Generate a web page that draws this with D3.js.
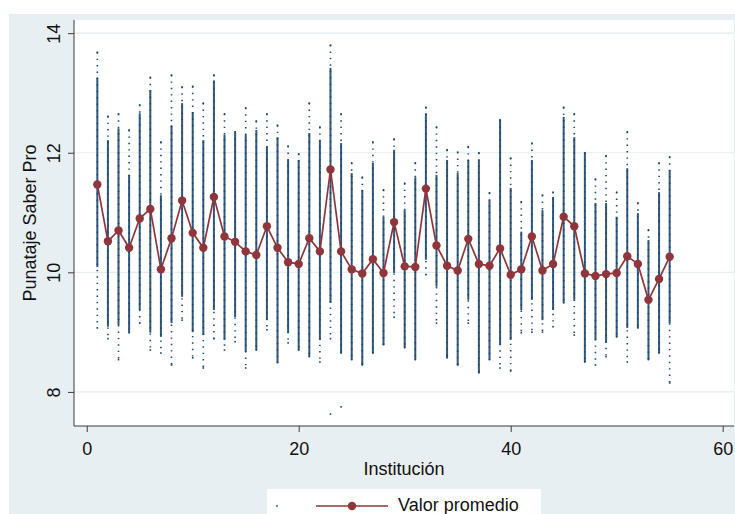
<!DOCTYPE html>
<html>
<head>
<meta charset="utf-8">
<script src="https://cdn.jsdelivr.net/npm/d3@7"></script>
<style>
  body { margin: 0; background: white; }
  text { font-family: "Liberation Sans", Arial, sans-serif; }
</style>
</head>
<body>
<div id="chart"></div>
<script>
// institution numbers on the x axis
const institutions = [1, 2, 3, 4, 5, 6, 7, 8, 9, 10, 11, 12, 13, 14, 15, 16, 17, 18, 19, 20,
                      21, 22, 23, 24, 25, 26, 27, 28, 29, 30, 31, 32, 33, 34, 35, 36, 37, 38, 39, 40,
                      41, 42, 43, 44, 45, 46, 47, 48, 49, 50, 51, 52, 53, 54, 55]

// mean score per institution (red line)
const meanScore = [11.47, 10.52, 10.70, 10.41, 10.90, 11.06, 10.05, 10.57, 11.20, 10.66,
                   10.41, 11.26, 10.60, 10.51, 10.35, 10.29, 10.77, 10.41, 10.17, 10.14,
                   10.57, 10.35, 11.72, 10.35, 10.05, 9.98, 10.22, 9.99, 10.84, 10.10,
                   10.09, 11.40, 10.45, 10.11, 10.03, 10.56, 10.14, 10.11, 10.40, 9.96,
                   10.05, 10.60, 10.03, 10.14, 10.93, 10.77, 9.98, 9.94, 9.97, 9.99,
                   10.27, 10.14, 9.54, 9.89, 10.26]

// highest / lowest student score per institution
const colMax = [13.68, 12.61, 12.65, 12.38, 12.80, 13.26, 12.18, 13.30, 13.10, 13.11,
                12.83, 13.30, 12.65, 12.35, 12.75, 12.53, 12.65, 12.46, 12.11, 11.98,
                12.83, 12.43, 13.80, 12.65, 11.83, 11.59, 12.18, 11.38, 12.23, 11.49,
                11.83, 12.76, 12.43, 12.05, 12.01, 12.10, 12.00, 11.33, 12.55, 11.91,
                11.18, 12.16, 11.29, 11.34, 12.76, 12.65, 12.00, 11.56, 11.95, 11.34,
                12.35, 11.16, 10.71, 11.83, 11.93]

const colMin = [9.07, 8.89, 8.54, 8.99, 9.15, 8.70, 8.65, 8.45, 9.20, 8.57,
                8.40, 8.89, 8.70, 8.84, 8.40, 8.70, 9.04, 8.49, 8.82, 8.70,
                8.59, 8.50, 8.89, 8.65, 8.54, 8.45, 8.65, 8.79, 9.25, 8.74,
                8.54, 9.96, 9.15, 8.57, 8.45, 9.15, 8.32, 8.54, 8.40, 8.35,
                8.99, 9.00, 9.00, 9.09, 9.49, 8.95, 8.50, 8.45, 8.59, 8.92,
                8.50, 9.07, 8.54, 8.65, 8.15]

// range where the student dots pile up into a solid column
const denseHi = [13.26, 12.21, 12.41, 11.63, 12.66, 13.05, 11.29, 12.46, 12.83, 12.68,
                 12.21, 13.21, 12.30, 12.33, 12.30, 12.38, 12.10, 12.26, 11.88, 11.88,
                 12.33, 12.21, 13.42, 12.16, 11.66, 11.38, 11.83, 10.93, 12.05, 11.04,
                 11.59, 12.66, 11.63, 11.88, 11.66, 11.88, 11.88, 11.21, 12.55, 11.41,
                 10.68, 11.88, 11.04, 11.26, 12.60, 12.26, 12.00, 11.16, 11.16, 10.93,
                 11.74, 10.99, 10.54, 11.34, 11.71]

const denseLo = [10.09, 9.09, 9.12, 8.99, 9.37, 8.99, 8.92, 9.15, 9.59, 9.00,
                 8.95, 9.37, 8.87, 9.25, 8.67, 8.70, 9.20, 8.49, 8.99, 8.70,
                 8.59, 8.87, 9.49, 8.65, 8.54, 8.45, 8.65, 8.79, 9.99, 8.74,
                 8.54, 10.21, 9.76, 8.57, 8.45, 9.54, 8.32, 8.54, 8.79, 8.87,
                 9.37, 9.54, 9.20, 9.37, 9.49, 9.54, 8.50, 8.87, 8.82, 8.92,
                 9.07, 9.07, 8.54, 8.65, 9.15]

// isolated low outliers
const strayInst = [23, 24]
const strayScore = [7.63, 7.75]

const yTicks = [8, 10, 12, 14]
const xTicks = [0, 20, 40, 60]

const colorDots = "#1a476f"
const colorMean = "#90353b"
const colorRegion = "#e8eff2"
const colorGrid = "#e6eef1"

const W = 735, H = 514
const plot = {left: 74, right: 734, top: 20, bottom: 426}

const svg = d3.select("#chart")
              .append("svg")
              .attr("width", W)
              .attr("height", H)

// graph region
svg.append("rect")
   .attr("x", 9).attr("y", 14)
   .attr("width", W - 9).attr("height", H - 14)
   .attr("fill", colorRegion)

svg.append("rect")
   .attr("x", plot.left).attr("y", plot.top)
   .attr("width", plot.right - plot.left).attr("height", plot.bottom - plot.top)
   .attr("fill", "white")

const x = d3.scaleLinear()
            .domain([-1.2, 61.07])
            .range([plot.left, plot.right])

const y = d3.scaleLinear()
            .domain([7.43, 14.22])
            .range([plot.bottom, plot.top])

// grid lines
svg.append("g")
   .selectAll("line")
   .data(yTicks)
   .join("line")
   .attr("x1", plot.left).attr("x2", plot.right)
   .attr("y1", d => y(d)).attr("y2", d => y(d))
   .attr("stroke", colorGrid)
   .attr("stroke-width", 1.2)

// student scores: sparse dots then the dense column
const cols = svg.append("g")

cols.selectAll(".sparse")
    .data(institutions)
    .join("line")
    .attr("class", "sparse")
    .attr("x1", d => x(d)).attr("x2", d => x(d))
    .attr("y1", (d, i) => y(colMax[i]))
    .attr("y2", (d, i) => y(colMin[i]))
    .attr("stroke", colorDots)
    .attr("stroke-width", 1.6)
    .attr("stroke-dasharray", "1.4,5")

cols.selectAll(".dense")
    .data(institutions)
    .join("line")
    .attr("class", "dense")
    .attr("x1", d => x(d)).attr("x2", d => x(d))
    .attr("y1", (d, i) => y(denseHi[i]))
    .attr("y2", (d, i) => y(denseLo[i]))
    .attr("stroke", colorDots)
    .attr("stroke-width", 2)
    .attr("opacity", 0.9)

const ends = institutions.flatMap((d, i) => [[d, colMax[i]], [d, colMin[i]]])
                         .concat(strayInst.map((d, i) => [d, strayScore[i]]))

cols.selectAll(".end")
    .data(ends)
    .join("rect")
    .attr("class", "end")
    .attr("x", d => x(d[0]) - 0.8)
    .attr("y", d => y(d[1]) - 0.8)
    .attr("width", 1.6).attr("height", 1.6)
    .attr("fill", colorDots)

// mean line
const line = d3.line()
               .x(d => x(d[0]))
               .y(d => y(d[1]))

const means = institutions.map((d, i) => [d, meanScore[i]])

svg.append("path")
   .datum(means)
   .attr("fill", "none")
   .attr("stroke", colorMean)
   .attr("stroke-width", 1.7)
   .attr("d", line)

svg.append("g")
   .selectAll("circle")
   .data(means)
   .join("circle")
   .attr("cx", d => x(d[0]))
   .attr("cy", d => y(d[1]))
   .attr("r", 4.2)
   .attr("fill", colorMean)

// axes
const yAxis = svg.append("g")
                 .attr("transform", "translate(" + plot.left + ",0)")
                 .call(d3.axisLeft(y).tickValues(yTicks).tickSize(6).tickFormat(d3.format("d")))

yAxis.select(".domain").attr("d", "M0," + plot.top + "V" + plot.bottom)
yAxis.selectAll("text")
     .attr("x", null).attr("dy", null)
     .attr("transform", "translate(-14,0) rotate(-90)")
     .attr("text-anchor", "middle")
     .style("font-size", "18px")

const xAxis = svg.append("g")
                 .attr("transform", "translate(0," + plot.bottom + ")")
                 .call(d3.axisBottom(x).tickValues(xTicks).tickSize(6))

xAxis.select(".domain").attr("d", "M" + plot.left + ",0H" + plot.right)
xAxis.selectAll("text")
     .attr("y", 29).attr("dy", null)
     .style("font-size", "18px")

svg.selectAll(".domain, .tick line").attr("stroke", "#3a3a3a")
svg.selectAll(".tick text").attr("fill", "#111").attr("font-family", null)

// titles
svg.append("text")
   .attr("transform", "translate(36," + (plot.top + plot.bottom) / 2 + ") rotate(-90)")
   .attr("text-anchor", "middle")
   .style("font-size", "18px")
   .attr("fill", "#111")
   .text("Punataje Saber Pro")

svg.append("text")
   .attr("x", (plot.left + plot.right) / 2)
   .attr("y", 475)
   .attr("text-anchor", "middle")
   .style("font-size", "18px")
   .attr("fill", "#111")
   .text("Institución")

// legend
const legend = svg.append("g")

legend.append("rect")
      .attr("x", 267).attr("y", 489)
      .attr("width", 274).attr("height", 40)
      .attr("fill", "white")

legend.append("rect")
      .attr("x", 276.2).attr("y", 505.2)
      .attr("width", 1.6).attr("height", 1.6)
      .attr("fill", colorDots)

legend.append("line")
      .attr("x1", 316).attr("x2", 388)
      .attr("y1", 506).attr("y2", 506)
      .attr("stroke", colorMean)
      .attr("stroke-width", 1.7)

legend.append("circle")
      .attr("cx", 352).attr("cy", 506)
      .attr("r", 4.2)
      .attr("fill", colorMean)

legend.append("text")
      .attr("x", 398).attr("y", 511)
      .style("font-size", "18px")
      .attr("fill", "#111")
      .text("Valor promedio")
</script>
</body>
</html>
